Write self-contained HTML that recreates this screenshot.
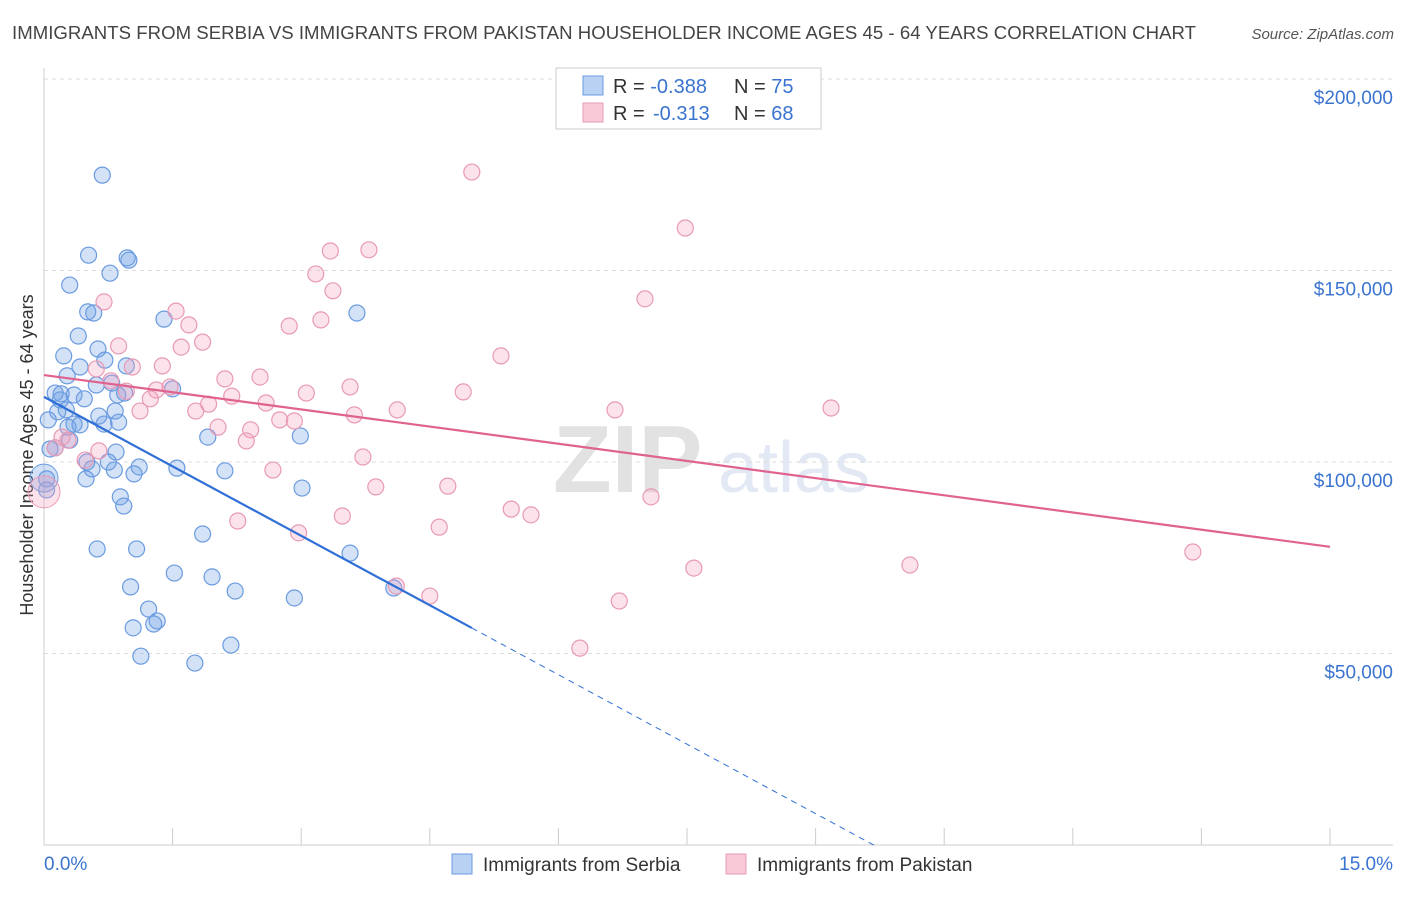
<!DOCTYPE html>
<html><head><meta charset="utf-8"><style>
body{margin:0;background:#fff;font-family:"Liberation Sans",sans-serif;}
svg text{font-family:"Liberation Sans",sans-serif;}
</style></head><body>
<svg id="chart" width="1406" height="892">
<text x="12" y="39" font-size="18.6" fill="#444" textLength="1184">IMMIGRANTS FROM SERBIA VS IMMIGRANTS FROM PAKISTAN HOUSEHOLDER INCOME AGES 45 - 64 YEARS CORRELATION CHART</text>
<text x="1394" y="39" font-size="15" fill="#555" text-anchor="end" font-style="italic">Source: ZipAtlas.com</text>
<text transform="translate(33,455) rotate(-90)" font-size="18" fill="#333" text-anchor="middle">Householder Income Ages 45 - 64 years</text>
<text x="553" y="492" font-size="96" fill="#e2e2e2" font-weight="bold" font-family="Liberation Serif">ZIP</text>
<text x="718" y="492" font-size="72" fill="#e2e9f4">atlas</text>
<g id="grid"></g><g id="axes"></g><g id="pts"></g><g id="lines"></g>
<g>
<rect x="556" y="68" width="265" height="61" fill="#fff" stroke="#ccc"/>
<rect x="583" y="76" width="20" height="19" fill="#b9d1f3" stroke="#6a9be0"/>
<rect x="583" y="103" width="20" height="19" fill="#f9c9d8" stroke="#e89ab5"/>
<text x="613" y="93" font-size="20" fill="#333">R = <tspan fill="#3a74d0">-0.388</tspan></text>
<text x="734" y="93" font-size="20" fill="#333">N = <tspan fill="#3a74d0">75</tspan></text>
<text x="613" y="120" font-size="20" fill="#333">R = <tspan fill="#3a74d0" x="653">-0.313</tspan></text>
<text x="734" y="120" font-size="20" fill="#333">N = <tspan fill="#3a74d0">68</tspan></text>
</g>
<g>
<rect x="452" y="854" width="20" height="20" fill="#b9d1f3" stroke="#6a9be0"/>
<text x="483" y="871" font-size="19" fill="#333">Immigrants from Serbia</text>
<rect x="726" y="854" width="20" height="20" fill="#f9c9d8" stroke="#e89ab5"/>
<text x="757" y="871" font-size="19" fill="#333">Immigrants from Pakistan</text>
</g>
</svg>
<script>
const xTicks=[0,1.5,3,4.5,6,7.5,9,10.5,12,13.5,15];
const yTicks=[50,100,150,200];
const yTickLabels=["$50,000","$100,000","$150,000","$200,000"];
const xTickLabels=["0.0%","15.0%"];
const serbiaX=[0.68,0.52,0.97,0.99,0.77,0.30,0.51,0.58,1.40,3.65,0.40,0.63,0.23,0.71,0.42,0.96,0.27,0.79,0.61,1.50,0.13,0.20,0.35,0.47,0.86,0.94,0.16,0.64,0.83,0.05,0.35,0.28,0.42,0.70,0.87,1.91,2.99,0.30,0.13,0.07,0.84,0.50,0.75,1.11,0.56,0.82,1.05,1.55,2.11,0.49,0.03,3.01,0.89,0.93,1.85,0.62,1.08,3.57,1.52,1.96,1.01,2.23,2.92,4.08,1.22,1.32,1.28,1.04,2.18,1.13,1.76,0.03,0.19,0.26];
const serbiaY=[174.9,154.0,153.3,152.7,149.3,146.2,139.2,138.9,137.3,138.9,132.9,129.5,127.7,126.6,124.8,125.1,122.5,120.6,120.1,119.1,118.0,117.8,117.5,116.5,117.5,118.0,113.1,112.0,113.3,111.0,109.9,109.1,109.7,109.9,110.4,106.5,106.8,105.7,103.7,103.4,102.6,100.0,100.0,98.7,98.2,97.9,96.9,98.4,97.7,95.6,95.6,93.2,90.9,88.5,81.2,77.3,77.3,76.2,71.0,70.0,67.4,66.3,64.5,67.1,61.6,58.5,57.7,56.7,52.2,49.3,47.5,92.7,116.2,113.6];
const pakistanX=[4.99,7.48,3.34,3.79,3.17,3.37,7.01,0.70,1.54,3.23,1.69,2.86,1.85,1.60,0.87,5.33,1.38,1.03,0.61,2.52,2.11,0.78,3.57,4.89,3.06,1.31,1.47,1.24,2.19,0.96,2.59,1.92,4.12,6.66,9.18,1.12,1.77,2.75,2.92,3.62,2.41,2.03,2.36,0.28,0.64,0.13,3.72,2.67,4.71,3.87,7.08,5.45,5.68,3.48,2.26,4.61,2.97,13.40,10.10,7.58,4.11,4.50,6.71,6.25,0.48,0.21];
const pakistanY=[175.7,161.1,155.1,155.4,149.1,144.7,142.6,141.8,139.4,137.1,135.8,135.5,131.3,130.0,130.3,127.7,125.1,124.8,124.3,122.2,121.7,121.2,119.6,118.3,118.0,118.8,119.6,116.5,117.2,118.5,115.4,115.1,113.6,113.6,114.1,113.3,113.3,111.0,110.7,112.3,108.4,109.1,105.5,105.7,102.9,103.7,101.3,97.9,93.7,93.5,90.9,87.7,86.2,85.9,84.6,83.0,81.5,76.5,73.1,72.3,67.6,65.0,63.7,51.4,100.5,106.5];
const bigX=[0,0];
const bigY=[95.8,92.2];
const serbiaFit=[117.0,-12.09,4.99,9.68];
const pakistanFit=[122.7,-2.99,15];
const NS="http://www.w3.org/2000/svg";
const X=v=>44+v/15*1286;
const Y=v=>845-v/50*191.5;
function mk(tag,attrs,parent){const e=document.createElementNS(NS,tag);for(const k in attrs)e.setAttribute(k,attrs[k]);parent.appendChild(e);return e;}
const grid=document.getElementById('grid'),axes=document.getElementById('axes'),pts=document.getElementById('pts'),lines=document.getElementById('lines');
yTicks.forEach((t,i)=>{
 const g=mk('line',{x1:44,x2:1393,y1:Y(t),y2:Y(t),stroke:'#ddd','stroke-dasharray':'4,4'},grid);
 
 
 const tx=mk('text',{x:1393,y:Y(t)+25,'font-size':19,fill:'#3a74d0','text-anchor':'end'},axes);
 tx.textContent=yTickLabels[i];
 
 
});
const ax=mk('line',{x1:44,x2:1393,y1:845,y2:845,stroke:'#ccc'},axes);


const ay=mk('line',{x1:44,x2:44,y1:68,y2:845,stroke:'#ccc'},axes);


xTicks.forEach(t=>{
 const l=mk('line',{x1:X(t),x2:X(t),y1:828,y2:845,stroke:'#ccc'},axes);
 
 
});
const xl0=mk('text',{x:44,y:870,'font-size':19,fill:'#3a74d0'},axes);xl0.textContent=xTickLabels[0];


const xl1=mk('text',{x:1393,y:870,'font-size':19,fill:'#3a74d0','text-anchor':'end'},axes);xl1.textContent=xTickLabels[1];


serbiaX.forEach((v,i)=>{
 const c=mk('circle',{cx:X(v),cy:Y(serbiaY[i]),r:8,fill:'rgba(110,160,230,0.3)',stroke:'#6a9be0','stroke-width':1.2},pts);
 
 
});
pakistanX.forEach((v,i)=>{
 const c=mk('circle',{cx:X(v),cy:Y(pakistanY[i]),r:8,fill:'rgba(245,160,190,0.3)',stroke:'#e89ab5','stroke-width':1.2},pts);
 
 
});
const b1=mk('circle',{cx:X(bigX[0]),cy:Y(bigY[0]),r:14,fill:'rgba(110,160,230,0.3)',stroke:'#6a9be0'},pts);


const b2=mk('circle',{cx:X(bigX[1]),cy:Y(bigY[1]),r:16,fill:'rgba(245,160,190,0.3)',stroke:'#e89ab5'},pts);


const f=(a,x)=>a[0]+a[1]*x;
const s1=mk('line',{x1:X(0),y1:Y(f(serbiaFit,0)),x2:X(serbiaFit[2]),y2:Y(f(serbiaFit,serbiaFit[2])),stroke:'#2f6fd6','stroke-width':2.2},lines);


const s2=mk('line',{x1:X(serbiaFit[2]),y1:Y(f(serbiaFit,serbiaFit[2])),x2:X(serbiaFit[3]),y2:Y(f(serbiaFit,serbiaFit[3])),stroke:'#2f6fd6','stroke-width':1,'stroke-dasharray':'6,5'},lines);


const p1=mk('line',{x1:X(0),y1:Y(f(pakistanFit,0)),x2:X(pakistanFit[2]),y2:Y(f(pakistanFit,pakistanFit[2])),stroke:'#e0628f','stroke-width':2.2},lines);


</script>
</body></html>
